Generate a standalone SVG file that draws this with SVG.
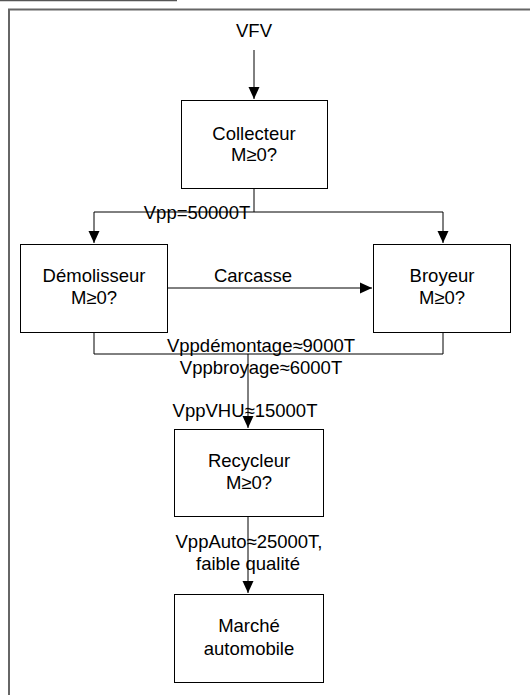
<svg xmlns="http://www.w3.org/2000/svg" width="530" height="695" viewBox="0 0 530 695">
<style>
.box{fill:#fff;stroke:#000;stroke-width:1}
.t{font-family:"Liberation Sans",Arial,sans-serif;font-size:18.5px;fill:#000;text-anchor:middle}
.c{fill:none;stroke:#000;stroke-width:1}
</style>
<defs>
<marker id="ah" markerUnits="userSpaceOnUse" markerWidth="14" markerHeight="14" viewBox="0 0 14 14" refX="12" refY="7" orient="auto">
<path d="M0,1.5 L12,7 L0,12.5 Z" fill="#000"/>
</marker>
</defs>
<rect width="530" height="695" fill="#fff"/>
<g id="frame">
<line x1="0" y1="0.5" x2="177" y2="0.5" stroke="#555" stroke-width="1.5"/>
<polyline points="9,695 9,9.5 530,9.5" fill="none" stroke="#666" stroke-width="2"/>
</g>
<g id="connectors">
<line class="c" x1="254" y1="50" x2="254" y2="99" marker-end="url(#ah)"/>
<polyline class="c" points="254,189 254,212 94,212 94,243" marker-end="url(#ah)"/>
<polyline class="c" points="254,212 443,212 443,243" marker-end="url(#ah)"/>
<line class="c" x1="167" y1="288" x2="372" y2="288" marker-end="url(#ah)"/>
<polyline class="c" points="94,333 94,354 443,354 443,333"/>
<line class="c" x1="248" y1="354" x2="248" y2="428" marker-end="url(#ah)"/>
<line class="c" x1="248" y1="517" x2="248" y2="593" marker-end="url(#ah)"/>
</g>
<g id="labels">
<text class="t" x="254" y="37">VFV</text>
<text class="t" x="197" y="219">Vpp=50000T</text>
<text class="t" x="253" y="282">Carcasse</text>
<text class="t" x="261" y="352">Vppdémontage≈9000T</text>
<text class="t" x="261" y="374">Vppbroyage≈6000T</text>
<text class="t" x="245" y="417">VppVHU≈15000T</text>
<text class="t" x="249" y="548">VppAuto≈25000T,</text>
<text class="t" x="248" y="570">faible qualité</text>
</g>
<g id="collecteur">
<rect class="box" x="181.5" y="100.5" width="146" height="88"/>
<text class="t" x="254" y="140">Collecteur</text>
<text class="t" x="254" y="161">M≥0?</text>
</g>
<g id="demolisseur">
<rect class="box" x="20.5" y="244.5" width="147" height="88"/>
<text class="t" x="94" y="282">Démolisseur</text>
<text class="t" x="94" y="304">M≥0?</text>
</g>
<g id="broyeur">
<rect class="box" x="373.5" y="244.5" width="137" height="88"/>
<text class="t" x="442" y="282">Broyeur</text>
<text class="t" x="442" y="304">M≥0?</text>
</g>
<g id="recycleur">
<rect class="box" x="174.5" y="429.5" width="149" height="87"/>
<text class="t" x="249" y="467">Recycleur</text>
<text class="t" x="249" y="489">M≥0?</text>
</g>
<g id="marche">
<rect class="box" x="174.5" y="594.5" width="149" height="88"/>
<text class="t" x="249" y="632">Marché</text>
<text class="t" x="249" y="655">automobile</text>
</g>
</svg>
